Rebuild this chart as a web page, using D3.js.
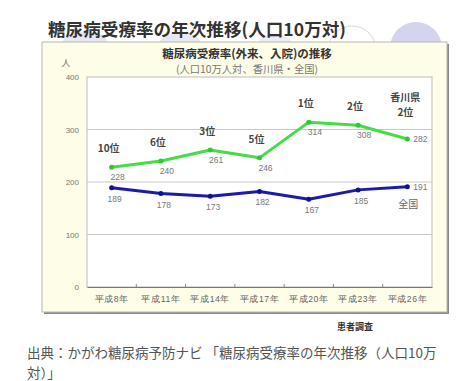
<!DOCTYPE html>
<html><head><meta charset="utf-8">
<script src="https://cdn.jsdelivr.net/npm/d3@7"></script>
<style>
html,body{margin:0;padding:0;background:#fff;}
svg{display:block;font-family:"Noto Sans CJK JP","Noto Sans",sans-serif;}
</style></head>
<body>
<svg id="c" width="459" height="381"></svg>
<script>
const categories = ["平成8年","平成11年","平成14年","平成17年","平成20年","平成23年","平成26年"];
const kagawa = [228, 240, 261, 246, 314, 308, 282];
const national = [189, 178, 173, 182, 167, 185, 191];
const ranks = ["10位","6位","3位","5位","1位","2位","2位"];
const yTicks = [0, 100, 200, 300, 400];

const svg = d3.select("#c");

// decorative background circles
const deco = svg.append("g");
deco.append("circle").attr("cx",416).attr("cy",48).attr("r",26).attr("fill","#d4d4ee");
deco.append("circle").attr("cx",352).attr("cy",50).attr("r",24).attr("fill","#fff").attr("stroke","#d8d8e0").attr("stroke-width",1);
deco.append("ellipse").attr("cx",85).attr("cy",42).attr("rx",22).attr("ry",10).attr("fill","#e6e6f4");
deco.append("ellipse").attr("cx",180).attr("cy",42).attr("rx",20).attr("ry",9).attr("fill","#e8e8f5");
deco.append("ellipse").attr("cx",275).attr("cy",42).attr("rx",16).attr("ry",8).attr("fill","#ececf6");

// title
svg.append("text").attr("x",48).attr("y",36).attr("font-size",17.6).attr("font-weight","bold")
  .attr("fill","#333").text("糖尿病受療率の年次推移(人口10万対)");

// panel
svg.append("rect").attr("x",44).attr("y",44).attr("width",405).attr("height",270).attr("fill","#8a8a8a");
svg.append("rect").attr("x",42).attr("y",42).attr("width",405).attr("height",270)
  .attr("fill","#fdfde8").attr("stroke","#b8b8b0").attr("stroke-width",1);

svg.append("text").attr("x",247).attr("y",58).attr("text-anchor","middle").attr("font-size",11.5)
  .attr("font-weight","bold").attr("fill","#333").text("糖尿病受療率(外来、入院)の推移");
svg.append("text").attr("x",247).attr("y",73).attr("text-anchor","middle").attr("font-size",10.3)
  .attr("fill","#777").text("(人口10万人対、香川県・全国)");
svg.append("text").attr("x",66).attr("y",66).attr("text-anchor","middle").attr("font-size",9)
  .attr("fill","#777").text("人");

const L = 87, R = 432, T = 77, B = 287;
const x = d3.scaleBand().domain(categories).range([L, R]);
const y = d3.scaleLinear().domain([0, 400]).range([B, T]);
const cx = d => x(d) + x.bandwidth()/2;

svg.append("rect").attr("x",L).attr("y",T).attr("width",R-L).attr("height",B-T)
  .attr("fill","#fff").attr("stroke","#bbb");

// grid
svg.append("g").selectAll("line").data(yTicks.filter(v => v>0 && v<400)).join("line")
  .attr("x1",L).attr("x2",R).attr("y1",d=>y(d)).attr("y2",d=>y(d))
  .attr("stroke","#c8c8c8").attr("stroke-width",1);

// y axis labels
const yAxis = d3.axisLeft(y).tickValues(yTicks).tickSize(0).tickPadding(8);
const gy = svg.append("g").attr("transform",`translate(${L},0)`).call(yAxis);
gy.select(".domain").remove();
gy.selectAll("text").attr("font-size",8).attr("fill","#777").attr("font-family","Arial,'Liberation Sans',sans-serif");

// x axis
const xAxis = d3.axisBottom(x).tickSize(0).tickPadding(9);
const gx = svg.append("g").attr("transform",`translate(0,${B})`).call(xAxis);
gx.select(".domain").attr("stroke","#777");
gx.selectAll("text").attr("font-size",8.6).attr("letter-spacing","0.6px").attr("fill","#666");
gx.selectAll(".bnd").data(categories.slice(1)).join("line")
  .attr("x1",d=>x(d)).attr("x2",d=>x(d)).attr("y1",0).attr("y2",-3).attr("stroke","#888");

const line = d3.line().x((d,i)=>cx(categories[i])).y(d=>y(d));

svg.append("path").datum(kagawa).attr("d",line).attr("fill","none")
  .attr("stroke","#46dc46").attr("stroke-width",3).attr("stroke-linejoin","round");
svg.append("path").datum(national).attr("d",line).attr("fill","none")
  .attr("stroke","#1c1caa").attr("stroke-width",3).attr("stroke-linejoin","round");

svg.append("g").selectAll("circle").data(kagawa).join("circle")
  .attr("cx",(d,i)=>cx(categories[i])).attr("cy",d=>y(d)).attr("r",2.5).attr("fill","#30c830");
svg.append("g").selectAll("circle").data(national).join("circle")
  .attr("cx",(d,i)=>cx(categories[i])).attr("cy",d=>y(d)).attr("r",2.5).attr("fill","#10109a");

const n = categories.length;
// value labels
svg.append("g").selectAll("text").data(kagawa).join("text")
  .attr("x",(d,i)=> cx(categories[i])+6)
  .attr("y",(d,i)=> i===n-1 ? y(d)+3 : y(d)+13)
  .attr("text-anchor",(d,i)=> i===n-1 ? "start" : "middle")
  .attr("font-size",8.5).attr("fill","#777").attr("font-family","Arial,'Liberation Sans',sans-serif")
  .text(d=>d);
svg.append("g").selectAll("text").data(national).join("text")
  .attr("x",(d,i)=> i===n-1 ? cx(categories[i])+6 : cx(categories[i])+3)
  .attr("y",(d,i)=> i===n-1 ? y(d)+3 : y(d)+14)
  .attr("text-anchor",(d,i)=> i===n-1 ? "start" : "middle")
  .attr("font-size",8.5).attr("fill","#777").attr("font-family","Arial,'Liberation Sans',sans-serif")
  .text(d=>d);

// rank labels
svg.append("g").selectAll("text").data(ranks.slice(0,n-1)).join("text")
  .attr("x",(d,i)=>cx(categories[i])-3).attr("y",(d,i)=>y(kagawa[i])-15)
  .attr("text-anchor","middle").attr("font-size",10).attr("font-weight","bold").attr("fill","#444")
  .text(d=>d);
const lastX = cx(categories[n-1]) - 2;
svg.append("text").attr("x",lastX).attr("y",y(kagawa[n-1])-38).attr("text-anchor","middle")
  .attr("font-size",10).attr("font-weight","bold").attr("fill","#444").text("香川県");
svg.append("text").attr("x",lastX).attr("y",y(kagawa[n-1])-23).attr("text-anchor","middle")
  .attr("font-size",10).attr("font-weight","bold").attr("fill","#444").text(ranks[n-1]);
svg.append("text").attr("x",lastX+3).attr("y",y(national[n-1])+21).attr("text-anchor","middle")
  .attr("font-size",10).attr("fill","#666").text("全国");

svg.append("text").attr("x",355).attr("y",330).attr("text-anchor","middle").attr("font-size",9)
  .attr("font-weight","bold").attr("fill","#333").text("患者調査");

svg.append("text").attr("x",27).attr("y",358).attr("font-size",13.5).attr("fill","#555")
  .text("出典：かがわ糖尿病予防ナビ 「糖尿病受療率の年次推移（人口10万");
svg.append("text").attr("x",27).attr("y",378).attr("font-size",13.5).attr("fill","#555")
  .text("対）」");
</script>
</body></html>
